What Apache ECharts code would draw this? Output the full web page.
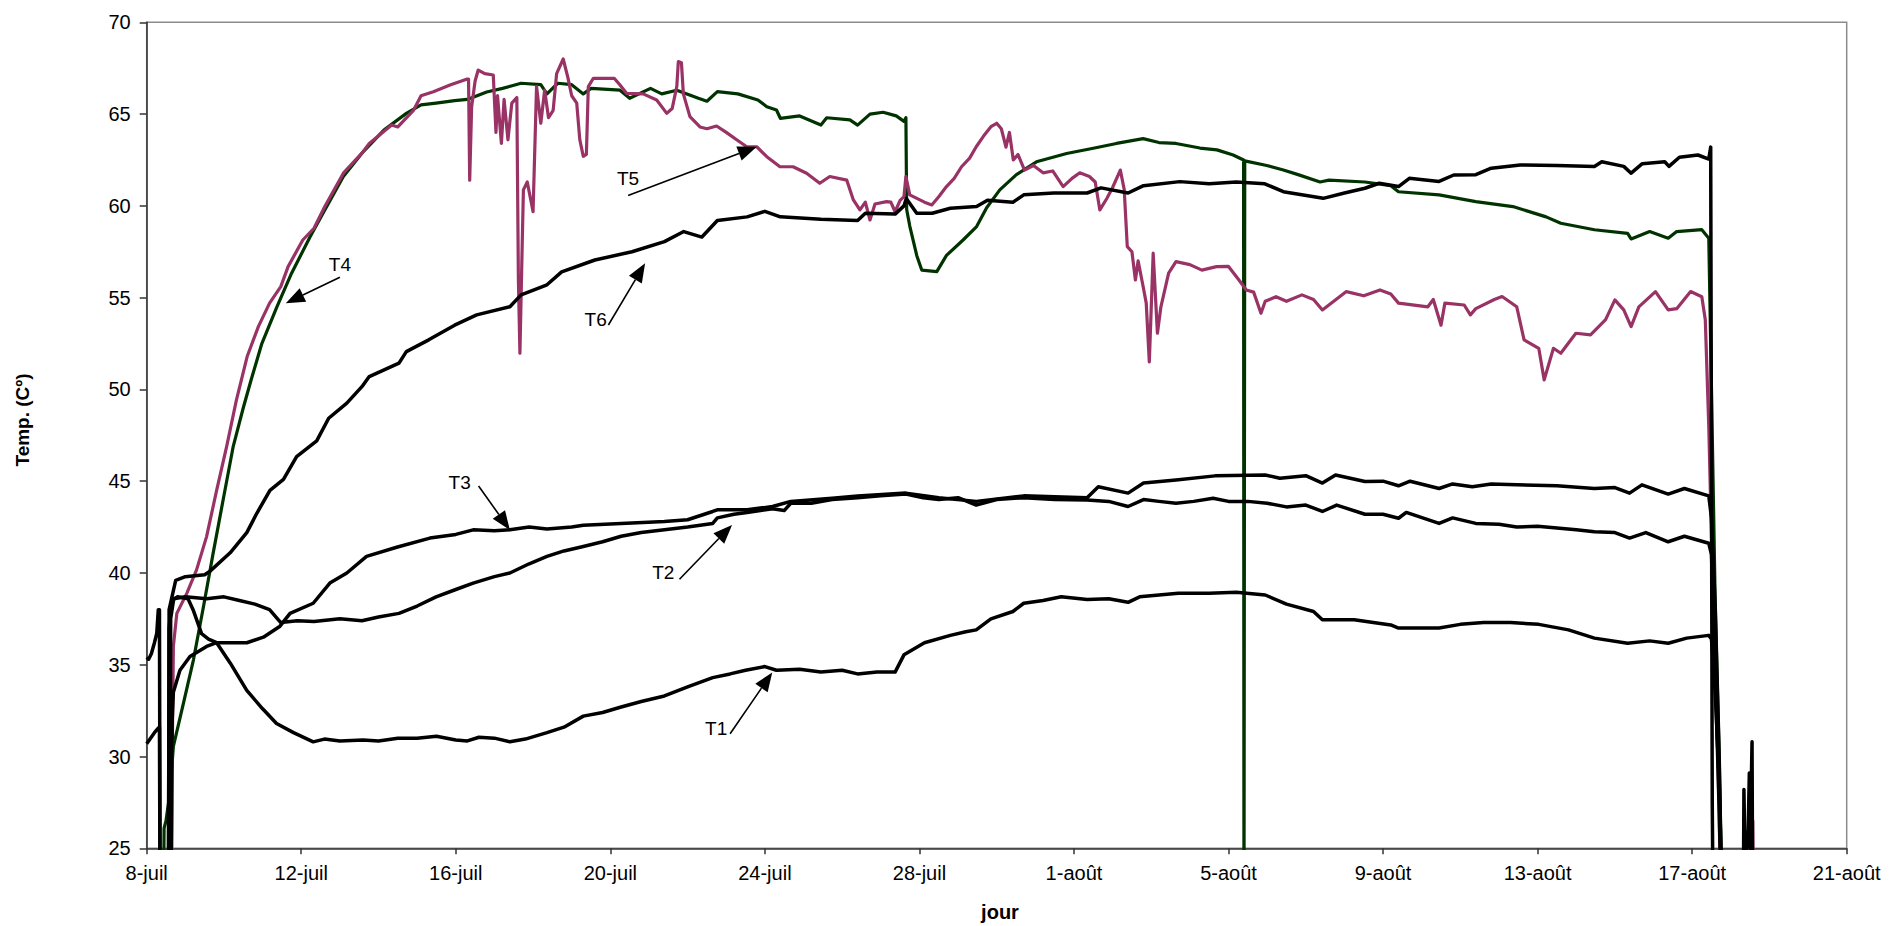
<!DOCTYPE html>
<html><head><meta charset="utf-8">
<script src="https://cdn.jsdelivr.net/npm/echarts@6/dist/echarts.min.js"></script>
<style>html,body{margin:0;padding:0;background:#fff}#c{width:1892px;height:926px}</style>
</head><body><div id="c"></div>
<script>
// x values are days counted from 8-juil
const xTickLabels = ['8-juil','12-juil','16-juil','20-juil','24-juil','28-juil','1-août','5-août','9-août','13-août','17-août','21-août'];
const seriesNames = ['T4','T5','T1','T2','T3','T6'];

const T1 = [[0.56,20],[0.58,37.0],[0.65,38.5],[0.8,38.7],[1.07,38.6],[1.2,38.0],[1.42,36.7],[1.6,36.4],[1.81,36.2],[2.16,35.1],[2.59,33.6],[3.0,32.6],[3.36,31.8],[3.8,31.3],[4.31,30.8],[4.6,30.95],[5.0,30.85],[5.6,30.9],[6.0,30.85],[6.5,31.0],[7.0,31.0],[7.5,31.1],[8.0,30.9],[8.3,30.85],[8.6,31.05],[9.0,31.0],[9.4,30.8],[9.8,30.95],[10.36,31.3],[10.8,31.6],[11.3,32.2],[11.8,32.4],[12.28,32.7],[12.8,33.0],[13.4,33.3],[14.0,33.8],[14.65,34.3],[15.1,34.5],[15.5,34.7],[16.0,34.9],[16.3,34.7],[16.9,34.75],[17.45,34.6],[18.0,34.7],[18.4,34.5],[18.9,34.6],[19.37,34.6],[19.6,35.54],[20.13,36.2],[20.8,36.6],[21.2,36.8],[21.47,36.9],[21.85,37.5],[22.42,37.9],[22.7,38.35],[23.2,38.5],[23.67,38.7],[24.34,38.55],[24.9,38.6],[25.4,38.4],[25.7,38.7],[26.2,38.8],[26.7,38.9],[27.5,38.9],[28.2,38.95],[28.95,38.8],[29.5,38.3],[30.2,37.9],[30.43,37.45],[31.25,37.45],[32.2,37.17],[32.4,37.0],[33.45,37.0],[34.0,37.2],[34.6,37.3],[35.3,37.3],[36.03,37.2],[36.8,36.9],[37.47,36.45],[38.33,36.17],[38.9,36.3],[39.38,36.17],[39.86,36.45],[40.43,36.6],[40.5,36.4],[40.6,33.3],[40.7,28.7],[40.8,20]];

const T2 = [[0,35.4],[0.05,35.3],[0.12,35.6],[0.2,36.2],[0.26,36.7],[0.3,38.0],[0.33,38.0],[0.35,20],[0.45,null],[0.6,20],[0.62,37.5],[0.7,38.6],[1.0,38.7],[1.55,38.6],[2.0,38.7],[2.4,38.5],[2.8,38.3],[3.18,38.0],[3.47,37.3],[3.9,37.4],[4.33,37.35],[5.0,37.5],[5.57,37.4],[6.0,37.6],[6.53,37.8],[7.0,38.2],[7.49,38.7],[8.0,39.1],[8.45,39.45],[9.0,39.8],[9.4,40.0],[9.9,40.5],[10.36,40.9],[10.8,41.2],[11.3,41.44],[11.8,41.7],[12.28,42.0],[12.8,42.2],[13.4,42.35],[14.0,42.5],[14.65,42.7],[14.77,43.0],[15.2,43.2],[15.54,43.3],[16.2,43.5],[16.5,43.4],[16.67,43.8],[17.2,43.8],[17.74,44.0],[18.4,44.1],[19.0,44.2],[19.65,44.3],[20.1,44.1],[20.5,44.0],[21.0,44.1],[21.47,43.7],[22.0,44.0],[22.7,44.1],[23.5,44.0],[24.34,43.98],[24.9,43.9],[25.4,43.62],[25.8,44.0],[26.2,43.9],[26.64,43.8],[27.1,43.9],[27.6,44.07],[28.0,43.9],[28.5,43.9],[29.0,43.8],[29.5,43.6],[30.0,43.7],[30.43,43.35],[30.8,43.7],[31.53,43.2],[32.0,43.2],[32.4,42.98],[32.6,43.3],[33.45,42.7],[33.8,43.0],[34.4,42.7],[35.0,42.65],[35.46,42.5],[36.0,42.55],[36.5,42.45],[37.0,42.35],[37.47,42.25],[38.0,42.2],[38.38,41.9],[38.8,42.2],[39.38,41.7],[39.8,42.0],[40.43,41.62],[40.5,41.0],[40.58,36],[40.7,27],[40.78,20]];

const T3 = [[0,30.7],[0.1,31.0],[0.2,31.3],[0.3,31.55],[0.33,31.6],[0.35,20],[0.45,null],[0.62,20],[0.66,32.0],[0.69,33.5],[0.86,34.7],[1.12,35.45],[1.55,36.0],[1.81,36.2],[2.59,36.2],[3.02,36.5],[3.45,37.1],[3.71,37.8],[4.31,38.35],[4.74,39.45],[5.18,40.0],[5.69,40.9],[6.47,41.4],[7.33,41.9],[8.0,42.1],[8.45,42.35],[9.0,42.3],[9.4,42.35],[9.9,42.5],[10.36,42.4],[11.0,42.5],[11.3,42.6],[12.28,42.7],[13.4,42.8],[14.0,42.9],[14.65,43.35],[14.77,43.44],[15.54,43.44],[16.2,43.62],[16.67,43.9],[17.74,44.07],[18.4,44.2],[19.65,44.35],[20.5,44.1],[21.47,43.9],[22.7,44.2],[23.5,44.15],[24.34,44.1],[24.63,44.7],[25.4,44.35],[25.8,44.9],[26.64,45.07],[27.65,45.29],[28.95,45.34],[29.33,45.16],[30.0,45.3],[30.43,44.9],[30.77,45.34],[31.53,44.98],[32.0,45.0],[32.4,44.75],[32.7,45.0],[33.45,44.6],[33.8,44.85],[34.31,44.7],[34.8,44.85],[35.46,44.8],[36.5,44.75],[37.47,44.6],[38.0,44.65],[38.38,44.35],[38.7,44.8],[39.38,44.3],[39.8,44.6],[40.43,44.2],[40.5,43],[40.6,38],[40.7,30],[40.78,20]];

const T4 = [[0.43,20],[0.45,26.1],[0.5,26.5],[0.6,28.0],[0.69,30.55],[0.95,32.9],[1.21,35.27],[1.47,38.17],[1.72,41.08],[1.98,44.0],[2.24,46.9],[2.5,49.0],[2.7,50.5],[2.98,52.5],[3.37,54.5],[3.75,56.33],[4.23,58.32],[4.61,59.78],[5.09,61.6],[5.57,62.87],[6.14,64.13],[6.72,65.04],[7.1,65.5],[7.49,65.6],[7.97,65.73],[8.3,65.8],[8.8,66.2],[9.21,66.4],[9.69,66.68],[10.2,66.6],[10.36,66.1],[10.64,66.68],[11.0,66.6],[11.3,66.1],[11.5,66.4],[12.25,66.3],[12.5,65.86],[13.04,66.4],[13.33,66.1],[13.72,66.3],[14.28,65.86],[14.5,65.7],[14.77,66.22],[15.3,66.1],[15.82,65.77],[16.05,65.4],[16.3,65.22],[16.4,64.77],[16.9,64.9],[17.45,64.4],[17.6,64.8],[18.2,64.68],[18.4,64.4],[18.72,65.0],[19.06,65.1],[19.4,64.9],[19.6,64.6],[19.65,64.8],[19.67,59.8],[19.75,58.9],[19.93,57.3],[20.06,56.5],[20.45,56.42],[20.7,57.3],[21.13,58.14],[21.48,58.87],[21.74,59.9],[22.08,60.87],[22.51,61.7],[23.03,62.4],[23.81,62.85],[24.5,63.14],[25.1,63.4],[25.79,63.66],[26.2,63.45],[26.64,63.4],[27.26,63.15],[27.7,63.05],[28.12,62.77],[28.39,62.5],[28.40,20],[28.42,62.45],[28.99,62.2],[29.42,61.95],[29.8,61.7],[30.37,61.3],[30.6,61.4],[31.53,61.3],[32.2,61.1],[32.4,60.77],[33.45,60.6],[34.4,60.23],[35.36,59.96],[36.22,59.4],[36.6,59.05],[37.47,58.7],[38.33,58.5],[38.42,58.2],[38.9,58.6],[39.38,58.24],[39.6,58.6],[40.25,58.7],[40.43,58.24],[40.5,50],[40.6,38],[40.7,30],[40.8,20]];

const T5 = [[0.64,20],[0.66,30],[0.69,36.0],[0.78,37.8],[1.04,38.9],[1.29,40.17],[1.55,41.98],[1.81,44.5],[2.07,46.9],[2.32,49.4],[2.6,51.79],[2.89,53.42],[3.18,54.7],[3.47,55.6],[3.66,56.69],[4.04,58.14],[4.33,58.78],[4.61,59.96],[5.09,61.78],[5.57,62.87],[5.76,63.4],[6.34,64.4],[6.5,64.3],[6.91,65.22],[7.1,66.0],[7.42,66.22],[7.85,66.58],[8.28,66.9],[8.33,66.9],[8.36,61.4],[8.41,65.4],[8.5,66.8],[8.58,67.4],[8.75,67.2],[8.97,67.13],[9.04,64.0],[9.08,66.0],[9.18,63.4],[9.25,65.8],[9.35,63.6],[9.45,65.6],[9.58,65.9],[9.62,56],[9.66,51.97],[9.72,58],[9.75,60.87],[9.85,61.3],[10.0,59.68],[10.09,66.5],[10.2,64.5],[10.3,66.3],[10.4,64.8],[10.52,65.2],[10.61,67.2],[10.78,68.0],[10.9,67.0],[11.0,66.0],[11.13,65.6],[11.21,63.6],[11.3,62.7],[11.38,62.8],[11.43,66.5],[11.56,66.95],[12.1,66.95],[12.25,66.58],[12.42,66.13],[12.85,66.1],[13.2,65.77],[13.46,65.04],[13.6,65.3],[13.72,66.5],[13.76,67.86],[13.84,67.8],[13.89,66.1],[14.06,64.86],[14.32,64.3],[14.5,64.2],[14.75,64.35],[15.0,64.0],[15.27,63.6],[15.53,63.22],[15.79,63.22],[16.05,62.68],[16.39,62.13],[16.73,62.13],[17.08,61.78],[17.42,61.23],[17.68,61.6],[18.12,61.4],[18.29,60.32],[18.46,59.78],[18.6,60.2],[18.72,59.23],[18.85,60.1],[19.15,60.23],[19.26,60.2],[19.37,59.68],[19.5,60.3],[19.6,60.5],[19.65,61.6],[19.75,60.6],[20.13,60.2],[20.32,60.05],[20.5,60.5],[20.7,61.05],[20.9,61.5],[21.09,62.13],[21.3,62.6],[21.47,63.22],[21.66,63.8],[21.85,64.31],[22.0,64.5],[22.12,64.2],[22.24,63.2],[22.33,64.0],[22.43,62.5],[22.55,62.8],[22.72,61.95],[22.95,62.2],[23.2,61.8],[23.45,61.9],[23.72,61.05],[23.95,61.5],[24.15,61.8],[24.4,61.6],[24.55,61.3],[24.67,59.78],[24.85,60.4],[25.0,61.0],[25.2,61.95],[25.3,60.9],[25.38,57.78],[25.5,57.5],[25.59,55.96],[25.66,57.0],[25.8,55.5],[25.87,54.7],[25.95,51.5],[26.05,57.42],[26.16,53.06],[26.25,54.5],[26.45,56.33],[26.64,56.96],[27.0,56.8],[27.31,56.5],[27.69,56.69],[28.0,56.7],[28.27,55.96],[28.46,55.42],[28.65,55.3],[28.84,54.15],[28.95,54.8],[29.23,55.05],[29.5,54.8],[29.9,55.15],[30.2,54.9],[30.43,54.33],[31.05,55.33],[31.5,55.1],[31.92,55.42],[32.2,55.2],[32.4,54.7],[33.16,54.5],[33.3,54.9],[33.5,53.5],[33.6,54.7],[34.1,54.6],[34.26,54.06],[34.4,54.4],[34.88,54.9],[35.08,55.06],[35.46,54.5],[35.65,52.7],[36.03,52.24],[36.17,50.52],[36.41,52.24],[36.6,51.97],[36.99,53.06],[37.37,52.97],[37.76,53.8],[38.0,54.88],[38.23,54.33],[38.42,53.42],[38.62,54.5],[39.05,55.33],[39.38,54.33],[39.6,54.4],[39.96,55.33],[40.25,55.05],[40.34,53.8],[40.43,48.0],[40.5,42],[40.6,35],[40.7,27],[40.75,20],[41.0,null],[41.55,20],[41.57,26.5],[41.59,20]];

const T6 = [[0.56,20],[0.58,38.0],[0.75,39.6],[1.0,39.8],[1.5,39.9],[1.64,40.1],[2.16,41.1],[2.59,42.2],[2.85,43.25],[3.19,44.5],[3.54,45.1],[3.88,46.34],[4.4,47.2],[4.71,48.43],[5.18,49.25],[5.57,50.15],[5.76,50.7],[6.53,51.43],[6.72,52.06],[7.3,52.7],[7.97,53.5],[8.54,54.06],[9.4,54.5],[9.69,55.15],[10.36,55.7],[10.74,56.4],[11.6,57.05],[12.56,57.5],[13.4,58.05],[13.9,58.6],[14.37,58.3],[14.77,59.2],[15.54,59.4],[16.0,59.7],[16.4,59.4],[17.45,59.27],[18.4,59.2],[18.6,59.6],[19.37,59.55],[19.6,60.0],[19.66,60.4],[19.93,59.6],[20.33,59.6],[20.8,59.87],[21.48,59.96],[21.76,60.3],[22.42,60.2],[22.7,60.6],[23.48,60.7],[24.34,60.7],[24.7,60.98],[25.4,60.7],[25.8,61.1],[26.74,61.32],[27.5,61.2],[28.2,61.3],[28.94,61.2],[29.42,60.77],[30.45,60.41],[31.0,60.7],[31.53,60.96],[31.9,61.23],[32.4,61.05],[32.68,61.5],[33.45,61.33],[33.83,61.68],[34.4,61.7],[34.8,62.05],[35.55,62.23],[36.5,62.2],[37.47,62.15],[37.66,62.4],[38.23,62.15],[38.42,61.78],[38.71,62.3],[39.29,62.4],[39.4,62.15],[39.67,62.65],[40.15,62.77],[40.43,62.55],[40.48,63.2],[40.52,27.5],[40.55,20],[41.0,null],[41.32,20],[41.34,28.2],[41.37,24],[41.45,26],[41.48,29.1],[41.5,25],[41.55,30.8],[41.57,20]];

const seriesData = [T4, T5, T1, T2, T3, T6];
const seriesColors = ['#003300', '#993366', '#000000', '#000000', '#000000', '#000000'];

// annotation layout (data coordinates): label centre, arrow start, arrow tip
const annotations = [
  {label:'T4', text:[5.0,56.78], from:[5.0,56.11], tip:[3.6,54.7]},
  {label:'T5', text:[12.46,61.5], from:[12.46,60.56], tip:[15.79,63.22]},
  {label:'T6', text:[11.62,53.83], from:[11.95,53.51], tip:[12.9,56.87]},
  {label:'T3', text:[8.1,44.93], from:[8.59,44.74], tip:[9.4,42.34]},
  {label:'T2', text:[13.37,40.03], from:[13.79,39.66], tip:[15.15,42.62]},
  {label:'T1', text:[14.74,31.55], from:[15.1,31.24], tip:[16.19,34.58]}
];

const FONT = '"Liberation Sans", Arial, sans-serif';
const chart = echarts.init(document.getElementById('c'), null, {renderer:'svg', width:1892, height:926});

chart.setOption({
  animation: false,
  backgroundColor: '#ffffff',
  grid: {left:146.7, right:45.3, top:22.3, bottom:77.7, show:true, borderColor:'#8c8c8c', borderWidth:1.5, backgroundColor:'transparent'},
  xAxis: {
    type:'value', min:0, max:44, interval:4,
    axisLine:{show:true, onZero:false, lineStyle:{color:'#333333', width:1.5}},
    axisTick:{show:true, length:6, lineStyle:{color:'#333333', width:1.5}},
    axisLabel:{formatter: v => xTickLabels[Math.round(v/4)], color:'#000', fontSize:20, fontFamily:FONT, margin:15},
    splitLine:{show:false}
  },
  yAxis: {
    type:'value', min:25, max:70, interval:5,
    axisLine:{show:true, onZero:false, lineStyle:{color:'#333333', width:1.5}},
    axisTick:{show:true, length:7, lineStyle:{color:'#333333', width:1.5}},
    axisLabel:{color:'#000', fontSize:20, fontFamily:FONT, margin:16},
    splitLine:{show:false}
  },
  series: seriesData.map((d, i) => ({
    name: seriesNames[i], type:'line', data:d, showSymbol:false, symbol:'none',
    clip:true, connectNulls:false, silent:true, z: 2 + i,
    lineStyle:{color:seriesColors[i], width: i < 2 ? 3.2 : 3.5, join:'round'}
  }))
});

const g = [];
annotations.forEach(a => {
  const t = chart.convertToPixel({gridIndex:0}, a.text);
  const p0 = chart.convertToPixel({gridIndex:0}, a.from);
  const p1 = chart.convertToPixel({gridIndex:0}, a.tip);
  const dx = p1[0]-p0[0], dy = p1[1]-p0[1];
  const len = Math.hypot(dx, dy);
  const ux = dx/len, uy = dy/len;
  const L = 19, W = 7.5;
  const bx = p1[0]-ux*L, by = p1[1]-uy*L;
  g.push({type:'line', silent:true, z:100, shape:{x1:p0[0], y1:p0[1], x2:bx, y2:by}, style:{stroke:'#000', lineWidth:1.6}});
  g.push({type:'polygon', silent:true, z:100, shape:{points:[[p1[0],p1[1]],[bx-uy*W, by+ux*W],[bx+uy*W, by-ux*W]]}, style:{fill:'#000'}});
  g.push({type:'text', silent:true, z:100, x:t[0], y:t[1], style:{text:a.label, fill:'#000', fontSize:19, fontFamily:FONT, align:'center', verticalAlign:'middle', textAlign:'center', textVerticalAlign:'middle'}});
});
// axis titles
g.push({type:'text', silent:true, z:100, x:1000, y:912, style:{text:'jour', fill:'#000', fontSize:20, fontWeight:'bold', fontFamily:FONT, align:'center', verticalAlign:'middle', textAlign:'center', textVerticalAlign:'middle'}});
g.push({type:'text', silent:true, z:100, x:22, y:420, rotation:Math.PI/2, style:{text:'Temp. (Cº)', fill:'#000', fontSize:19, fontWeight:'bold', fontFamily:FONT, align:'center', verticalAlign:'middle', textAlign:'center', textVerticalAlign:'middle'}});
chart.setOption({graphic: g});
</script>
</body></html>
